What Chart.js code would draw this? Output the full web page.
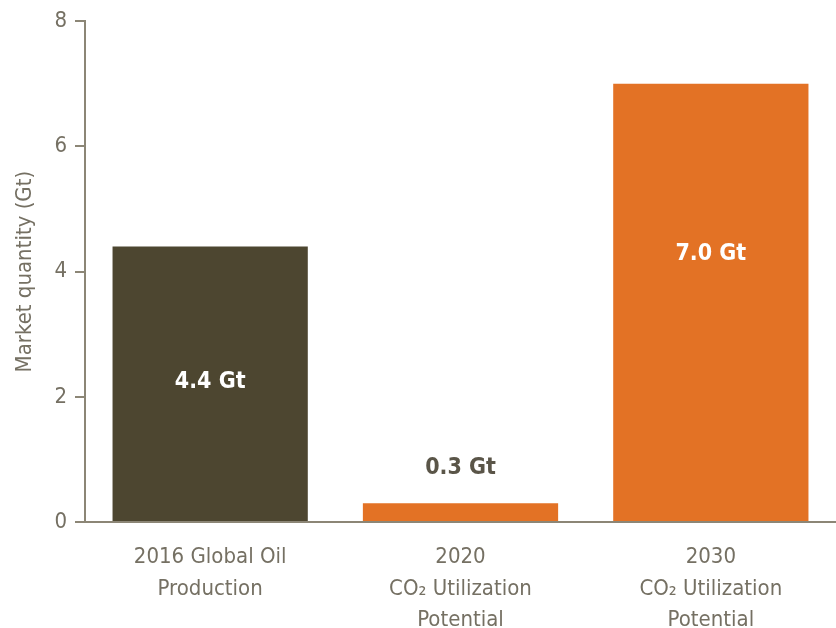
<!DOCTYPE html>
<html>
<head>
<meta charset="utf-8">
<script src="https://cdn.jsdelivr.net/npm/chart.js@4"></script>
<style>
  html, body { margin: 0; padding: 0; background: #fff; }
  #wrap { width: 836px; height: 628px; position: relative; }
</style>
</head>
<body>
<div id="wrap"><canvas id="chart"></canvas></div>
<script>
// Market quantity (Gt) per category
const categories = [
  ["2016 Global Oil", "Production"],
  ["2020", "CO\u2082 Utilization", "Potential"],
  ["2030", "CO\u2082 Utilization", "Potential"]
];
const values = [4.4, 0.3, 7.0];
const valueLabels = ["4.4 Gt", "0.3 Gt", "7.0 Gt"];
const barColors = ["#4d4630", "#e37225", "#e37225"];
const yTicks = [0, 2, 4, 6, 8];

const FONT = "'Liberation Sans Narrow', 'DejaVu Sans Condensed', 'Roboto Condensed', sans-serif";
const AXIS = "#8c8676";
const TEXT = "#757063";

// value labels: inside tall bars, above the small one
const barLabels = {
  id: "barLabels",
  afterDatasetsDraw(chart) {
    const { ctx } = chart;
    const meta = chart.getDatasetMeta(0);
    const yScale = chart.scales.y;
    ctx.save();
    ctx.font = "bold 23px " + FONT;
    ctx.textAlign = "center";
    ctx.textBaseline = "middle";
    meta.data.forEach((bar, i) => {
      const v = values[i];
      let y, color;
      if (v < 1) {
        y = bar.y - 35;
        color = "#5a5548";
      } else if (v > 6) {
        y = bar.y + 170;
        color = "#ffffff";
      } else {
        y = (bar.y + yScale.getPixelForValue(0)) / 2 - 2;
        color = "#ffffff";
      }
      ctx.fillStyle = color;
      ctx.fillText(valueLabels[i], bar.x, y);
    });
    ctx.restore();
  }
};

new Chart(document.getElementById("chart"), {
  type: "bar",
  data: {
    labels: categories,
    datasets: [{
      data: values,
      backgroundColor: barColors,
      borderWidth: 0,
      barPercentage: 0.78,
      categoryPercentage: 1
    }]
  },
  options: {
    responsive: true,
    maintainAspectRatio: false,
    animation: false,
    layout: { padding: { top: 20, right: 0, left: 0, bottom: 0 } },
    plugins: { legend: { display: false }, tooltip: { enabled: false } },
    scales: {
      x: {
        grid: { display: false },
        border: { display: true, color: AXIS, width: 2 },
        ticks: {
          color: TEXT,
          font: { family: FONT, size: 22, lineHeight: 1.42 },
          padding: 12,
          maxRotation: 0,
          autoSkip: false
        },
        afterFit(scale) { scale.height = 106; }
      },
      y: {
        min: 0,
        max: 8,
        afterBuildTicks(scale) { scale.ticks = yTicks.map(v => ({ value: v })); },
        grid: {
          display: true,
          drawOnChartArea: false,
          drawTicks: true,
          tickLength: 10,
          color: AXIS,
          lineWidth: 2
        },
        border: { display: true, color: AXIS, width: 2 },
        ticks: {
          color: TEXT,
          font: { family: FONT, size: 22 },
          padding: 8
        },
        title: {
          display: true,
          text: "Market quantity (Gt)",
          color: TEXT,
          font: { family: FONT, size: 22 },
          padding: { top: 12, bottom: 4 }
        },
        afterFit(scale) { scale.width = 85; }
      }
    }
  },
  plugins: [barLabels]
});
</script>
</body>
</html>
